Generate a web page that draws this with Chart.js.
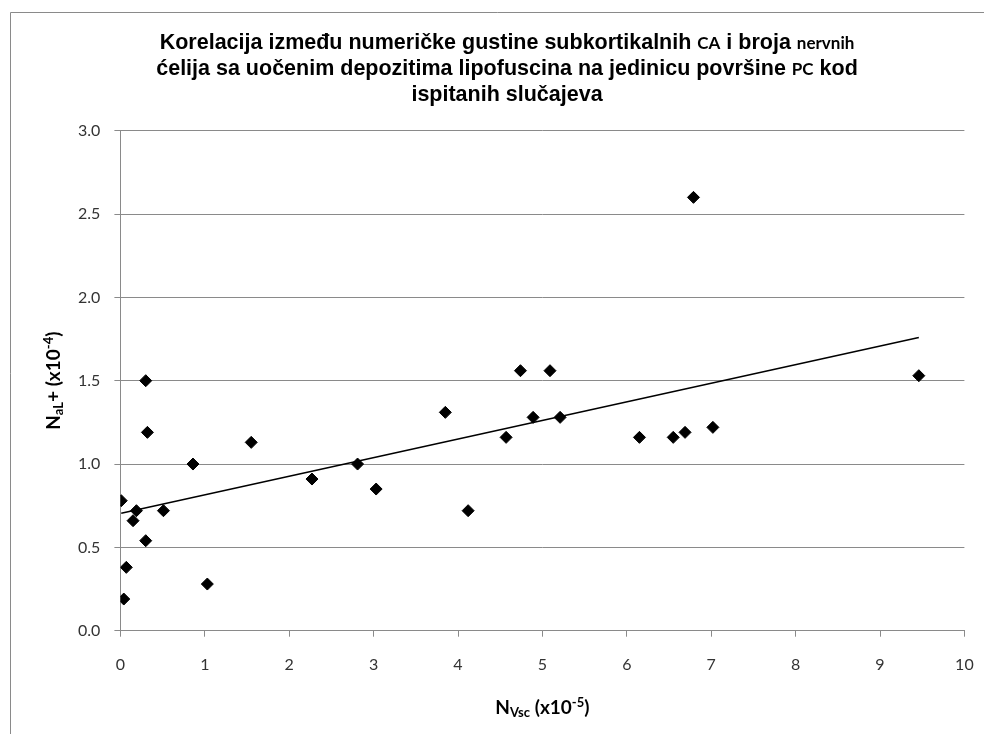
<!DOCTYPE html>
<html>
<head>
<meta charset="utf-8">
<script src="https://cdn.jsdelivr.net/npm/chart.js@4.4.1/dist/chart.umd.min.js"></script>
<style>
html,body{margin:0;padding:0;background:#fff;overflow:hidden;}
#c{display:block;}
</style>
</head>
<body>
<canvas id="c" width="984" height="734" style="width:984px;height:734px;"></canvas>
<script>
// ---- data ----
const xValues = [0.01, 0.04, 0.07, 0.15, 0.19, 0.30, 0.30, 0.32, 0.51, 0.86, 1.03, 1.55, 2.27, 2.81, 3.03, 3.85, 4.12, 4.57, 4.74, 4.89, 5.09, 5.21, 6.15, 6.55, 6.69, 7.02, 6.79, 9.46];
const yValues = [0.78, 0.19, 0.38, 0.66, 0.72, 0.54, 1.50, 1.19, 0.72, 1.00, 0.28, 1.13, 0.91, 1.00, 0.85, 1.31, 0.72, 1.16, 1.56, 1.28, 1.56, 1.28, 1.16, 1.16, 1.19, 1.22, 2.60, 1.53];
const xTickValues = [0, 1, 2, 3, 4, 5, 6, 7, 8, 9, 10];
const yTickValues = [0.0, 0.5, 1.0, 1.5, 2.0, 2.5, 3.0];

// title runs: [text, isSmall]
const titleLines = [
  [["Korelacija između numeričke gustine subkortikalnih ", false], ["CA", true], [" i broja ", false], ["nervnih", true]],
  [["ćelija sa uočenim depozitima lipofuscina na jedinicu površine ", false], ["PC", true], [" kod", false]],
  [["ispitanih slučajeva", false]]
];
// axis title runs: [text, kind] kind: n normal, b subscript, p superscript
const xAxisTitle = [["N", "n"], ["Vsc", "b"], [" (x10", "n"], ["-5", "p"], [")", "n"]];
const yAxisTitle = [["N", "n"], ["aL", "b"], ["+ (x10", "n"], ["-4", "p"], [")", "n"]];

// ---- linear trend (least squares) from the data ----
const n = xValues.length;
const mx = xValues.reduce((a, b) => a + b, 0) / n;
const my = yValues.reduce((a, b) => a + b, 0) / n;
let sxy = 0, sxx = 0;
for (let i = 0; i < n; i++) { sxy += (xValues[i] - mx) * (yValues[i] - my); sxx += (xValues[i] - mx) ** 2; }
const slope = sxy / sxx, intercept = my - slope * mx;
const xMin = Math.min(...xValues), xMax = Math.max(...xValues);

const points = xValues.map((x, i) => ({ x: x, y: yValues[i] }));
const trend = [{ x: xMin, y: intercept + slope * xMin }, { x: xMax, y: intercept + slope * xMax }];

const GRID = '#8a8a8a';
const TICKCOL = '#333333';
const TITLE_BIG = 'bold 21.5px "Liberation Sans", Arial, sans-serif';
const TITLE_SMALL = 'bold 17px Lato, sans-serif';
const AX_MAIN = 'bold 19px Lato, sans-serif';
const AX_SMALL = 'bold 13px Lato, sans-serif';

function drawRuns(ctx, runs, cx, baseY, fontFor, offFor) {
  let total = 0;
  const widths = runs.map(r => { ctx.font = fontFor(r[1]); const w = ctx.measureText(r[0]).width; total += w; return w; });
  let x = cx - total / 2;
  ctx.textAlign = 'left';
  ctx.textBaseline = 'alphabetic';
  runs.forEach((r, i) => {
    ctx.font = fontFor(r[1]);
    ctx.fillText(r[0], x, baseY + offFor(r[1]));
    x += widths[i];
  });
}

const decor = {
  id: 'decor',
  beforeDraw(chart) {
    const ctx = chart.ctx;
    ctx.save();
    ctx.fillStyle = '#ffffff';
    ctx.fillRect(0, 0, chart.width, chart.height);
    ctx.strokeStyle = GRID;
    ctx.lineWidth = 1;
    ctx.beginPath();
    ctx.moveTo(10.5, chart.height + 5);
    ctx.lineTo(10.5, 12.5);
    ctx.lineTo(chart.width + 5, 12.5);
    ctx.stroke();
    ctx.restore();
  },
  afterDraw(chart) {
    const ctx = chart.ctx;
    const area = chart.chartArea;
    ctx.save();
    ctx.fillStyle = '#000000';
    const titleCx = 507;
    titleLines.forEach((line, i) => {
      drawRuns(ctx, line, titleCx, 49 + i * 26, s => s ? TITLE_SMALL : TITLE_BIG, () => 0);
    });
    const axFont = k => k === 'n' ? AX_MAIN : AX_SMALL;
    const axOff = k => k === 'b' ? 3 : (k === 'p' ? -7 : 0);
    drawRuns(ctx, xAxisTitle, (area.left + area.right) / 2, 714, axFont, axOff);
    ctx.translate(59.5, (area.top + area.bottom) / 2);
    ctx.rotate(-Math.PI / 2);
    drawRuns(ctx, yAxisTitle, 0, 0, axFont, axOff);
    ctx.restore();
  }
};

new Chart(document.getElementById('c'), {
  type: 'scatter',
  data: {
    datasets: [
      {
        label: 'trend',
        type: 'line',
        data: trend,
        borderColor: '#000000',
        borderWidth: 1.5,
        pointRadius: 0,
        fill: false,
        order: 2
      },
      {
        label: 'data',
        data: points,
        pointStyle: 'rectRot',
        pointRadius: 6,
        backgroundColor: '#000000',
        borderColor: '#000000',
        borderWidth: 1,
        order: 1
      }
    ]
  },
  options: {
    responsive: false,
    maintainAspectRatio: false,
    devicePixelRatio: 1,
    animation: false,
    layout: { padding: { left: 10, right: 19.6, top: 130.7, bottom: 0 } },
    plugins: { legend: { display: false }, title: { display: false }, tooltip: { enabled: false } },
    scales: {
      x: {
        type: 'linear',
        min: 0, max: 10,
        afterBuildTicks: s => { s.ticks = xTickValues.map(v => ({ value: v })); },
        ticks: { callback: v => String(v), font: { family: 'Lato', size: 16 }, color: TICKCOL, padding: 19, maxRotation: 0 },
        grid: { drawOnChartArea: false, tickColor: GRID, tickLength: 6, lineWidth: 1 },
        border: { color: GRID, width: 1 },
        afterFit: s => { s.height = 103.3; s.paddingLeft = 0; s.paddingRight = 0; }
      },
      y: {
        type: 'linear',
        min: 0, max: 3,
        afterBuildTicks: s => { s.ticks = yTickValues.map(v => ({ value: v })); },
        ticks: { callback: v => Number(v).toFixed(1), font: { family: 'Lato', size: 16 }, color: TICKCOL, padding: 14 },
        grid: { color: GRID, tickColor: GRID, tickLength: 6, lineWidth: 1 },
        border: { color: GRID, width: 1 },
        afterFit: s => { s.width = 110.4; s.paddingTop = 0; s.paddingBottom = 0; }
      }
    }
  },
  plugins: [decor]
});
</script>
</body>
</html>
